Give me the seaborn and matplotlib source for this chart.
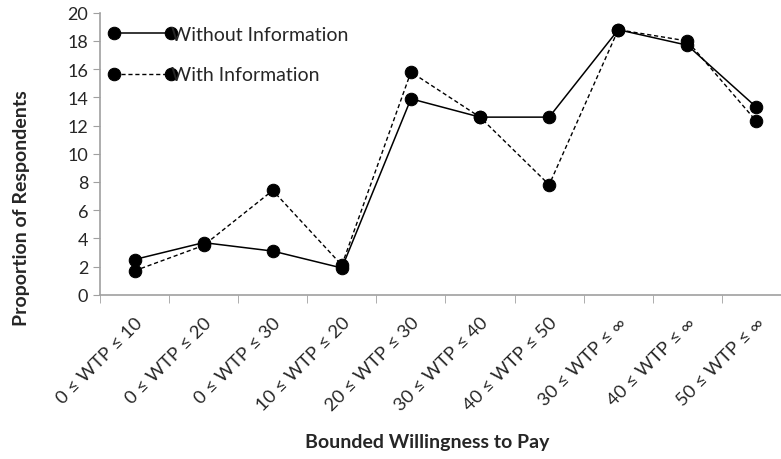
import numpy as np
import pandas as pd
import matplotlib
matplotlib.use("Agg")
import matplotlib.pyplot as plt
import seaborn as sns

categories = ["0 ≤ WTP ≤ 10", "0 ≤ WTP ≤ 20", "0 ≤ WTP ≤ 30", "10 ≤ WTP ≤ 20",
              "20 ≤ WTP ≤ 30", "30 ≤ WTP ≤ 40", "40 ≤ WTP ≤ 50", "30 ≤ WTP ≤ ∞",
              "40 ≤ WTP ≤ ∞", "50 ≤ WTP ≤ ∞"]
without_info = [2.5, 3.7, 3.1, 1.9, 13.9, 12.6, 12.6, 18.8, 17.7, 13.3]
with_info = [1.7, 3.5, 7.4, 2.1, 15.8, 12.6, 7.8, 18.8, 18.0, 12.3]

sns.set_style("white")
plt.rcParams["font.family"] = ["Lato", "DejaVu Sans"]

fig = plt.figure(figsize=(7.81, 4.60), dpi=100)
# axes runs off the right edge, as in the original
ax = fig.add_axes([0.128, 0.357, 0.872, 0.613])

pos = np.arange(len(categories))
sns.lineplot(x=pos, y=without_info, ax=ax, color="black", lw=1.1,
             marker="o", markersize=9, markeredgecolor="black",
             label="Without Information")
sns.lineplot(x=pos, y=with_info, ax=ax, color="black", lw=1.0,
             linestyle=(0, (3, 2)), marker="o", markersize=9,
             markeredgecolor="black", label="With Information")

ax.set_xlim(-0.5, len(categories) - 0.645)
ax.set_ylim(0, 20)
ax.set_yticks(range(0, 21, 2))
ax.tick_params(axis="y", labelsize=13, length=5, color="#a0a0a0", direction="out", left=True)
ax.set_xticks(pos)
ax.set_xticklabels(categories, rotation=45, ha="right", rotation_mode="anchor", fontsize=13.3)
ax.set_xticks(np.arange(-0.5, len(categories) - 0.6), minor=True)
ax.tick_params(axis="x", which="major", length=0, pad=14)
ax.tick_params(axis="x", which="minor", length=6, color="#a0a0a0", direction="out", bottom=True)

for side in ["top", "right"]:
    ax.spines[side].set_visible(False)
for side in ["left", "bottom"]:
    ax.spines[side].set_color("#a0a0a0")
    ax.spines[side].set_linewidth(1.2)

ax.set_ylabel("Proportion of Respondents", fontsize=14, fontweight="bold")
ax.yaxis.set_label_coords(-0.103, 0.31)
ax.set_xlabel("Bounded Willingness to Pay", fontsize=14, fontweight="bold")
ax.xaxis.set_label_coords(0.48, -0.49)

ax.legend(loc="upper left", bbox_to_anchor=(-0.013, 1.015), frameon=False, numpoints=2,
          fontsize=14, handlelength=3.5, handletextpad=-0.3, labelspacing=1.2)

fig.savefig("out.png", dpi=100)
